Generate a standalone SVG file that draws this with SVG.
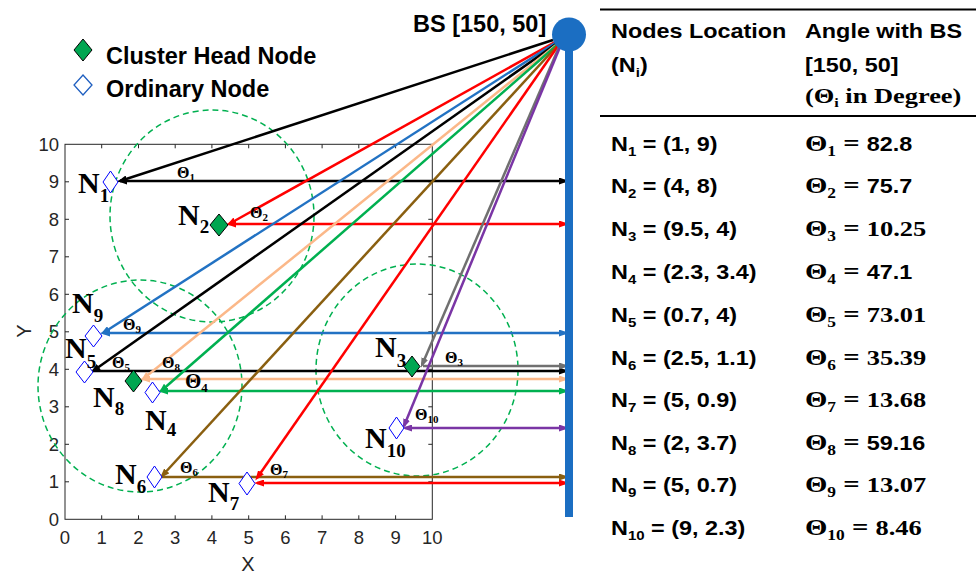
<svg xmlns="http://www.w3.org/2000/svg" width="976" height="574" viewBox="0 0 976 574">
<style>
.ax{fill:none;stroke:#262626;stroke-width:1}
.tk{font-family:"Liberation Sans",Arial,sans-serif;font-size:18.5px;fill:#262626}
.cl{fill:none;stroke:#00b050;stroke-width:1.5;stroke-dasharray:6 4}
.ln{fill:none;stroke-width:2.5}
.od{fill:#fff;stroke:#0000ff;stroke-width:1}
.ch{fill:#00a651;stroke:#000;stroke-width:1}
.nl{font-family:"Liberation Serif","Times New Roman",serif;font-weight:bold;font-size:30px;fill:#000}
.nl .s{font-size:19px}
.th{font-family:"Liberation Serif","Times New Roman",serif;font-weight:bold;font-size:16px;fill:#000}
.th .s{font-size:11px}
.lg{font-family:"Liberation Sans",Arial,sans-serif;font-weight:bold;font-size:23.5px;fill:#000}
.ts{font-family:"Liberation Sans",Arial,sans-serif;font-weight:bold;font-size:19.5px;fill:#000}
.ts .s{font-size:12.5px}
.sf{font-family:"Liberation Serif","Times New Roman",serif;font-weight:bold}
.sn{font-family:"Liberation Sans",Arial,sans-serif;font-weight:bold;font-size:19.5px}
.rule{stroke:#000;stroke-width:2}
</style>
<defs>
<marker id="m-black" viewBox="0 0 10 7" refX="7" refY="3.5" markerWidth="10" markerHeight="7" markerUnits="userSpaceOnUse" orient="auto-start-reverse"><path d="M0,0L10,3.5L0,7z" fill="#000"/></marker>
<marker id="m-red" viewBox="0 0 10 7" refX="7" refY="3.5" markerWidth="10" markerHeight="7" markerUnits="userSpaceOnUse" orient="auto-start-reverse"><path d="M0,0L10,3.5L0,7z" fill="#ff0000"/></marker>
<marker id="m-blue" viewBox="0 0 10 7" refX="7" refY="3.5" markerWidth="10" markerHeight="7" markerUnits="userSpaceOnUse" orient="auto-start-reverse"><path d="M0,0L10,3.5L0,7z" fill="#2272c3"/></marker>
<marker id="m-salmon" viewBox="0 0 10 7" refX="7" refY="3.5" markerWidth="10" markerHeight="7" markerUnits="userSpaceOnUse" orient="auto-start-reverse"><path d="M0,0L10,3.5L0,7z" fill="#fbb889"/></marker>
<marker id="m-green" viewBox="0 0 10 7" refX="7" refY="3.5" markerWidth="10" markerHeight="7" markerUnits="userSpaceOnUse" orient="auto-start-reverse"><path d="M0,0L10,3.5L0,7z" fill="#00b050"/></marker>
<marker id="m-brown" viewBox="0 0 10 7" refX="7" refY="3.5" markerWidth="10" markerHeight="7" markerUnits="userSpaceOnUse" orient="auto-start-reverse"><path d="M0,0L10,3.5L0,7z" fill="#8a5f10"/></marker>
<marker id="m-gray" viewBox="0 0 10 7" refX="7" refY="3.5" markerWidth="10" markerHeight="7" markerUnits="userSpaceOnUse" orient="auto-start-reverse"><path d="M0,0L10,3.5L0,7z" fill="#707070"/></marker>
<marker id="m-purple" viewBox="0 0 10 7" refX="7" refY="3.5" markerWidth="10" markerHeight="7" markerUnits="userSpaceOnUse" orient="auto-start-reverse"><path d="M0,0L10,3.5L0,7z" fill="#7a35a5"/></marker>
</defs>
<rect width="976" height="574" fill="#fff"/>

<!-- legend -->
<g id="legend">
<polygon class="ch" points="83,39 92,50 83,61 74,50"/>
<text class="lg" x="106" y="64">Cluster Head Node</text>
<polygon points="83,75 92,85 83,95 74,85" fill="#fff" stroke="#1f5fc0" stroke-width="1.3"/>
<text class="lg" x="106" y="97">Ordinary Node</text>
</g>

<!-- axes -->
<g id="axes">
<rect class="ax" x="65" y="144.3" width="367.3" height="375"/>
<path class="ax" d="M101.7,519.3v-4M138.5,519.3v-4M175.2,519.3v-4M211.9,519.3v-4M248.7,519.3v-4M285.4,519.3v-4M322.1,519.3v-4M358.8,519.3v-4M395.6,519.3v-4M101.7,144.3v4M138.5,144.3v4M175.2,144.3v4M211.9,144.3v4M248.7,144.3v4M285.4,144.3v4M322.1,144.3v4M358.8,144.3v4M395.6,144.3v4M65,481.8h4M65,444.3h4M65,406.8h4M65,369.3h4M65,331.8h4M65,294.3h4M65,256.8h4M65,219.3h4M65,181.8h4M432.3,481.8h-4M432.3,444.3h-4M432.3,406.8h-4M432.3,369.3h-4M432.3,331.8h-4M432.3,294.3h-4M432.3,256.8h-4M432.3,219.3h-4M432.3,181.8h-4"/>
<g class="tk" text-anchor="end">
<text x="59" y="526">0</text><text x="59" y="488">1</text><text x="59" y="451">2</text><text x="59" y="413">3</text><text x="59" y="376">4</text><text x="59" y="338">5</text><text x="59" y="301">6</text><text x="59" y="263">7</text><text x="59" y="226">8</text><text x="59" y="188">9</text><text x="59" y="151">10</text>
</g>
<g class="tk" text-anchor="middle">
<text x="65" y="544">0</text><text x="101.7" y="544">1</text><text x="138.5" y="544">2</text><text x="175.2" y="544">3</text><text x="211.9" y="544">4</text><text x="248.7" y="544">5</text><text x="285.4" y="544">6</text><text x="322.1" y="544">7</text><text x="358.8" y="544">8</text><text x="395.6" y="544">9</text><text x="432.3" y="544">10</text>
<text x="248" y="571" font-size="20">X</text>
<text transform="translate(31 331) rotate(-90)" font-size="20">Y</text>
</g>
</g>

<!-- cluster circles -->
<g id="clusters">
<ellipse class="cl" cx="212" cy="216" rx="102" ry="106"/>
<ellipse class="cl" cx="140" cy="386" rx="102" ry="106"/>
<ellipse class="cl" cx="417" cy="370" rx="101" ry="106"/>
</g>

<!-- connectors -->
<g id="connectors">
<path class="ln" stroke="#000" d="M553,40L120,181" marker-end="url(#m-black)"/>
<path class="ln" stroke="#000" d="M120,181H566" marker-start="url(#m-black)" marker-end="url(#m-black)"/>
<path class="ln" stroke="#ff0000" d="M555,42L229,224" marker-end="url(#m-red)"/>
<path class="ln" stroke="#ff0000" d="M229,224H566" marker-start="url(#m-red)" marker-end="url(#m-red)"/>
<path class="ln" stroke="#2272c3" d="M555,43L103,333" marker-end="url(#m-blue)"/>
<path class="ln" stroke="#2272c3" d="M103,333H566" marker-start="url(#m-blue)" marker-end="url(#m-blue)"/>
<path class="ln" stroke="#000" d="M556,44L93,371" marker-end="url(#m-black)"/>
<path class="ln" stroke="#000" d="M93,371H566" marker-end="url(#m-black)"/>
<path class="ln" stroke="#fbb889" d="M556,45L143,379" marker-end="url(#m-salmon)"/>
<path class="ln" stroke="#fbb889" d="M143,379H566" marker-start="url(#m-salmon)" marker-end="url(#m-salmon)"/>
<path class="ln" stroke="#00b050" d="M557,45L161,391" marker-end="url(#m-green)"/>
<path class="ln" stroke="#00b050" d="M161,391H566" marker-start="url(#m-green)" marker-end="url(#m-green)"/>
<path class="ln" stroke="#8a5f10" d="M557,46L162,476" marker-end="url(#m-brown)"/>
<path class="ln" stroke="#8a5f10" d="M162,477H566" marker-end="url(#m-brown)"/>
<path class="ln" stroke="#ff0000" d="M558,46L257,478" marker-end="url(#m-red)"/>
<path class="ln" stroke="#ff0000" d="M257,483H566" marker-start="url(#m-red)" marker-end="url(#m-red)"/>
<path class="ln" stroke="#707070" d="M559,47L422,365" marker-end="url(#m-gray)"/>
<path class="ln" stroke="#707070" d="M423,366H566" marker-end="url(#m-gray)"/>
<path class="ln" stroke="#7a35a5" d="M560,47L404,426" marker-end="url(#m-purple)"/>
<path class="ln" stroke="#7a35a5" d="M405,428H566" marker-start="url(#m-purple)" marker-end="url(#m-purple)"/>
<g class="th">
<text x="177" y="178">Θ<tspan class="s" dy="3">1</tspan></text>
<text x="250" y="218">Θ<tspan class="s" dy="3">2</tspan></text>
<text x="123" y="330">Θ<tspan class="s" dy="3">9</tspan></text>
<text x="112" y="368">Θ<tspan class="s" dy="3">5</tspan></text>
<text x="162" y="368">Θ<tspan class="s" dy="3">8</tspan></text>
<text x="185" y="388" font-size="21">Θ<tspan dy="4" font-size="13">4</tspan></text>
<text x="180" y="473">Θ<tspan class="s" dy="3">6</tspan></text>
<text x="270" y="475">Θ<tspan class="s" dy="3">7</tspan></text>
<text x="445" y="363">Θ<tspan class="s" dy="3">3</tspan></text>
<text x="415" y="420">Θ<tspan class="s" dy="3">10</tspan></text>
</g>
</g>

<!-- base station -->
<g id="BS">
<rect x="565" y="34" width="8" height="483" fill="#1b6ec2"/>
<circle cx="569" cy="34.5" r="17" fill="#1b6ec2"/>
<text class="lg" x="413" y="32">BS [150, 50]</text>
</g>

<!-- nodes -->
<g id="N1"><polygon class="od" points="110.5,171 118,182 110.5,193 103,182"/><text class="nl" x="78" y="193">N<tspan class="s" dy="9">1</tspan></text></g>
<g id="N2"><polygon class="ch" points="219,214 228,225 219,236 210,225"/><text class="nl" x="178" y="225">N<tspan class="s" dy="8">2</tspan></text></g>
<g id="N9"><polygon class="od" points="93.5,325 102,336 93.5,347 85,336"/><text class="nl" x="72" y="313">N<tspan class="s" dy="9">9</tspan></text></g>
<g id="N5"><polygon class="od" points="84.5,361 93,372 84.5,383 76,372"/><text class="nl" x="65" y="358">N<tspan class="s" dy="10">5</tspan></text></g>
<g id="N8"><polygon class="ch" points="133.5,370 142,381 133.5,392 125,381"/><text class="nl" x="93" y="407">N<tspan class="s" dy="8">8</tspan></text></g>
<g id="N4"><polygon class="od" points="152.5,382 160,392.5 152.5,403 145,392.5"/><text class="nl" x="145" y="430">N<tspan class="s" dy="6">4</tspan></text></g>
<g id="N6"><polygon class="od" points="154.5,466 162,477 154.5,488 147,477"/><text class="nl" x="115" y="484">N<tspan class="s" dy="9">6</tspan></text></g>
<g id="N7"><polygon class="od" points="247,472 255,483.5 247,495 239,483.5"/><text class="nl" x="208" y="502">N<tspan class="s" dy="8">7</tspan></text></g>
<g id="N3"><polygon class="ch" points="412,356 420,366.5 412,377 404,366.5"/><text class="nl" x="375" y="357">N<tspan class="s" dy="10">3</tspan></text></g>
<g id="N10"><polygon class="od" points="396.5,417 404,428 396.5,439 389,428"/><text class="nl" x="365" y="448">N<tspan class="s" dy="9">10</tspan></text></g>

<!-- table -->
<g id="table">
<line class="rule" x1="600" y1="9.5" x2="976" y2="9.5"/>
<line class="rule" x1="600" y1="116" x2="976" y2="116"/>
<g transform="translate(600 0) scale(1.2 1)">
<text class="ts" x="9.2" y="38">Nodes Location</text>
<text class="ts" x="9.2" y="72">(N<tspan class="s" dy="5">i</tspan><tspan dy="-5">)</tspan></text>
<text class="ts" x="170.8" y="38">Angle with BS</text>
<text class="ts" x="170.8" y="72">[150, 50]</text>
<text class="sf" x="170.8" y="103" font-size="22">(Θ<tspan dy="4" font-size="13.5">i</tspan><tspan dy="-4"> in Degree)</tspan></text>

<text class="ts" x="9.2" y="151">N<tspan class="s" dy="5">1</tspan><tspan dy="-5"> = (1, 9)</tspan></text>
<text class="ts" x="9.2" y="193">N<tspan class="s" dy="5">2</tspan><tspan dy="-5"> = (4, 8)</tspan></text>
<text class="ts" x="9.2" y="236">N<tspan class="s" dy="5">3</tspan><tspan dy="-5"> = (9.5, 4)</tspan></text>
<text class="ts" x="9.2" y="279">N<tspan class="s" dy="5">4</tspan><tspan dy="-5"> = (2.3, 3.4)</tspan></text>
<text class="ts" x="9.2" y="322">N<tspan class="s" dy="5">5</tspan><tspan dy="-5"> = (0.7, 4)</tspan></text>
<text class="ts" x="9.2" y="365">N<tspan class="s" dy="5">6</tspan><tspan dy="-5"> = (2.5, 1.1)</tspan></text>
<text class="ts" x="9.2" y="407">N<tspan class="s" dy="5">7</tspan><tspan dy="-5"> = (5, 0.9)</tspan></text>
<text class="ts" x="9.2" y="450">N<tspan class="s" dy="5">8</tspan><tspan dy="-5"> = (2, 3.7)</tspan></text>
<text class="ts" x="9.2" y="492">N<tspan class="s" dy="5">9</tspan><tspan dy="-5"> = (5, 0.7)</tspan></text>
<text class="ts" x="9.2" y="535">N<tspan class="s" dy="5">10</tspan><tspan dy="-5"> = (9, 2.3)</tspan></text>

<text class="sf" x="170.8" y="151" font-size="24">Θ<tspan dy="5" font-size="14.5">1</tspan><tspan dy="-5"> = </tspan><tspan class="sn">82.8</tspan></text>
<text class="sf" x="170.8" y="193" font-size="24">Θ<tspan dy="5" font-size="14.5">2</tspan><tspan dy="-5"> = </tspan><tspan class="sn">75.7</tspan></text>
<text class="sf" x="170.8" y="236" font-size="24">Θ<tspan dy="5" font-size="14.5">3</tspan><tspan dy="-5"> = </tspan><tspan font-size="22">10.25</tspan></text>
<text class="sf" x="170.8" y="279" font-size="24">Θ<tspan dy="5" font-size="14.5">4</tspan><tspan dy="-5"> = </tspan><tspan class="sn">47.1</tspan></text>
<text class="sf" x="170.8" y="322" font-size="24">Θ<tspan dy="5" font-size="14.5">5</tspan><tspan dy="-5"> = </tspan><tspan font-size="22">73.01</tspan></text>
<text class="sf" x="170.8" y="365" font-size="24">Θ<tspan dy="5" font-size="14.5">6</tspan><tspan dy="-5"> = </tspan><tspan font-size="22">35.39</tspan></text>
<text class="sf" x="170.8" y="407" font-size="24">Θ<tspan dy="5" font-size="14.5">7</tspan><tspan dy="-5"> = </tspan><tspan font-size="22">13.68</tspan></text>
<text class="sf" x="170.8" y="450" font-size="24">Θ<tspan dy="5" font-size="14.5">8</tspan><tspan dy="-5"> = </tspan><tspan class="sn">59.16</tspan></text>
<text class="sf" x="170.8" y="492" font-size="24">Θ<tspan dy="5" font-size="14.5">9</tspan><tspan dy="-5"> = </tspan><tspan font-size="22">13.07</tspan></text>
<text class="sf" x="170.8" y="535" font-size="24">Θ<tspan dy="5" font-size="14.5">10</tspan><tspan dy="-5"> = </tspan><tspan font-size="22">8.46</tspan></text>
</g>
</g>
</svg>
